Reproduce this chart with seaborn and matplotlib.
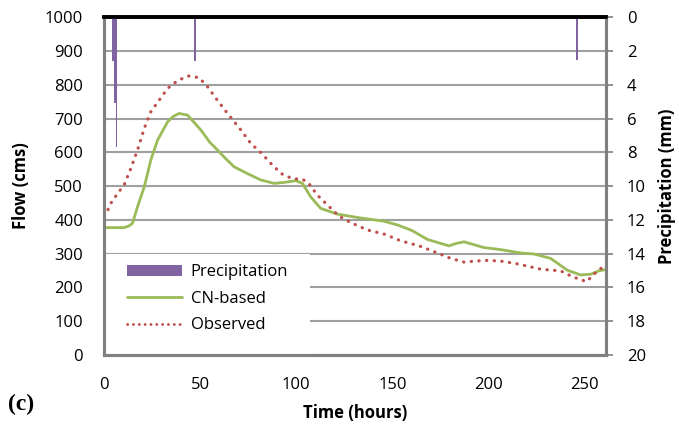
import matplotlib
matplotlib.use("Agg")
import matplotlib.pyplot as plt
import seaborn as sns
import pandas as pd
from matplotlib.patches import Patch, Rectangle
from matplotlib.lines import Line2D

# ---------------- data ----------------
cn_time = [0, 5, 10.5, 13, 14.9, 17.5, 21, 24.4, 27.9, 33.1, 36, 39.1, 43.5, 50.4, 55, 59, 63,
           67.7, 74.6, 81.6, 88.5, 94, 99.7, 103.2, 107.5, 112.7, 121.4, 131.8, 145.6, 152.6,
           159.5, 161.2, 168.2, 179.4, 183, 187.2, 197.6, 206.2, 216.6, 223.5, 232.2, 240.9,
           247.8, 253, 257.3, 260.8]
cn_flow = [377, 377, 377, 382, 390, 439, 498, 577, 636, 690, 706, 715, 710, 666, 630, 607, 583,
           557, 537, 518, 508, 511, 516, 508, 468, 434, 417, 407, 396, 385,
           370, 365, 342, 323, 330, 335, 318, 312, 302, 299, 286, 251,
           237, 239, 249, 253]

obs_time = [0, 1, 3.6, 7.1, 10.5, 14, 17.5, 21, 24.4, 28.7, 33.1, 38.3, 43.8, 49.5, 53.9, 59,
            64.3, 71.2, 76.4, 81.6, 88.1, 92.8, 98, 103.2, 106.1, 111, 116.2, 122.2, 128.3,
            137, 145.6, 153.4, 159.1, 163, 171.6, 180.3, 187.2, 193, 199.3, 206.2, 215.7,
            227, 237.4, 243.5, 250.9, 254.7, 258.2, 260.8]
obs_flow = [412, 416, 449, 478, 503, 552, 607, 671, 720, 754, 789, 812, 826, 821, 794, 754,
            715, 666, 626, 599, 559, 535, 522, 520, 511, 473, 444, 411, 392,
            370, 358, 340, 330, 325, 306, 286, 275, 278, 280, 278, 269,
            254, 249, 232, 217, 239, 256, 259]

precip_time = [4.5, 5.5, 6.5, 5.9, 6.6, 47.5, 246]
precip_mm = [2.6, 2.6, 2.6, 5.1, 7.7, 2.6, 2.55]

flow_ticks = list(range(0, 1001, 100))
precip_ticks = list(range(0, 21, 2))
time_ticks = [0, 50, 100, 150, 200, 250]

# ---------------- style ----------------
sns.set_style("white")
plt.rcParams["font.family"] = ["Open Sans", "DejaVu Sans"]
plt.rcParams["text.color"] = "black"
plt.rcParams["axes.labelcolor"] = "black"
plt.rcParams["xtick.color"] = "black"
plt.rcParams["ytick.color"] = "black"

GREEN = "#9BBB59"
RED = "#C0504D"
PURPLE = "#8064A2"
GRID = "#A0A0A0"
SPINE = "#808080"

fig = plt.figure(figsize=(6.79, 4.29), dpi=100)
ax = fig.add_axes([0.153, 0.1725, 0.7395, 0.7875])

cn_df = pd.DataFrame({"time": cn_time, "flow": cn_flow})
obs_df = pd.DataFrame({"time": obs_time, "flow": obs_flow})

sns.lineplot(data=cn_df, x="time", y="flow", ax=ax, color=GREEN, lw=2.0, zorder=3)
sns.lineplot(data=obs_df, x="time", y="flow", ax=ax, color=RED, lw=2.3, zorder=3)
obs_line = ax.get_lines()[-1]
obs_line.set_linestyle((0, (0.1, 2.3)))
obs_line.set_dash_capstyle("round")

ax.set_xlim(0, 261)
ax.set_ylim(0, 1000)
ax.set_yticks(flow_ticks)
ax.set_xticks(time_ticks)
ax.yaxis.grid(True, color=GRID, lw=1.5)
ax.set_axisbelow(True)
ax.tick_params(axis="y", length=0, pad=15, labelsize=12, labelcolor="black")
ax.tick_params(axis="x", length=0, pad=16, labelsize=12, labelcolor="black")
ax.set_xlabel("Time (hours)", fontsize=12, fontweight="bold", labelpad=8)
ax.set_ylabel("Flow (cms)", fontsize=12, fontweight="bold", labelpad=11)

# white legend area
ax.add_patch(Rectangle((0, 0), 0.41, 0.298, transform=ax.transAxes,
                       facecolor="white", edgecolor="none", zorder=1))

# secondary axis: precipitation (inverted)
ax2 = ax.twinx()
widths = [1.0, 1.0, 1.0, 0.8, 0.8, 0.9, 0.9]
ax2.bar(precip_time, precip_mm, width=widths, color=PURPLE, edgecolor="none",
        linewidth=0, align="center", zorder=2)
ax2.set_ylim(20, 0)
ax2.set_yticks(precip_ticks)
ax2.tick_params(axis="y", length=5, width=1.2, color=SPINE, pad=10, labelsize=12,
                direction="out", labelcolor="black")
ax2.set_ylabel("Precipitation (mm)", fontsize=12, fontweight="bold", rotation=90, labelpad=9)

for a in (ax, ax2):
    for side in ("left", "right", "bottom"):
        a.spines[side].set_color(SPINE)
        a.spines[side].set_linewidth(2.2)
    a.spines["top"].set_color("black")
    a.spines["top"].set_linewidth(2.6)

handles = [Patch(facecolor=PURPLE, edgecolor="none"),
           Line2D([], [], color=GREEN, lw=2.0),
           Line2D([], [], color=RED, lw=2.0, linestyle=(0, (0.1, 2.0)), dash_capstyle="round")]
leg = ax2.legend(handles, ["Precipitation", "CN-based", "Observed"], loc="upper left",
                 bbox_to_anchor=(0.047, 0.268), frameon=False, fontsize=12,
                 handlelength=3.3, handleheight=0.6, handletextpad=0.5, labelspacing=0.62,
                 borderaxespad=0, borderpad=0)

fig.text(0.012, 0.045, "(c)", fontsize=17, fontweight="bold", family="Liberation Serif")

fig.savefig("out.png", dpi=100)
